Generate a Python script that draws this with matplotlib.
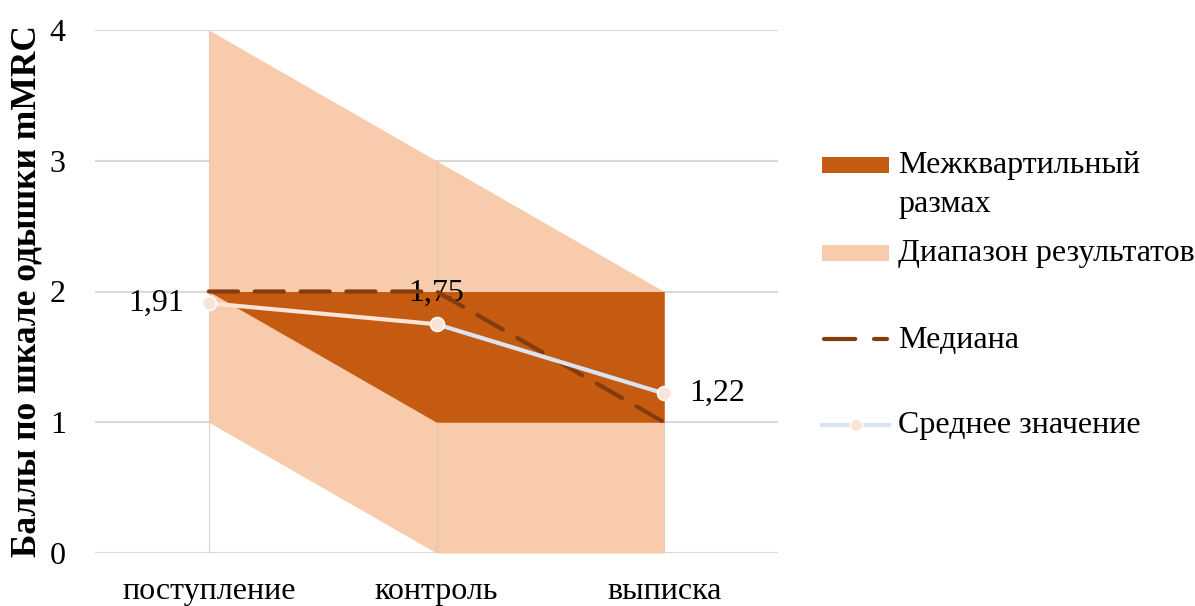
import matplotlib

matplotlib.use("Agg")

import matplotlib.pyplot as plt
from matplotlib.collections import LineCollection
from matplotlib.lines import Line2D
from matplotlib.patches import Rectangle

plt.rcParams["font.family"] = ["Liberation Serif", "DejaVu Serif"]

stages = ["поступление", "контроль", "выписка"]
range_min = [1, 0, 0]
range_max = [4, 3, 2]
iqr_low = [2, 1, 1]
iqr_high = [2, 2, 2]
median = [2, 2, 1]
mean = [1.91, 1.75, 1.22]
mean_labels = ["1,91", "1,75", "1,22"]

RANGE_COLOR = "#F8CBAD"
IQR_COLOR = "#C55A11"
MEDIAN_COLOR = "#843C0C"
MEAN_COLORS = ["#FBE5D6", "#DAE3F3"]
MARKER_COLOR = "#FBE3D6"
FONT_SIZE = 23

W, H = 1195, 606
fig = plt.figure(figsize=(W / 100, H / 100), dpi=100)
ax = fig.add_axes([95 / W, 1 - 553 / H, 683 / W, 523 / H])

x = list(range(len(stages)))

ax.fill_between(x, range_min, range_max, color=RANGE_COLOR, linewidth=0, zorder=2)
ax.fill_between(x, iqr_low, iqr_high, color=IQR_COLOR, linewidth=0, zorder=3)
# faint edges of the area series at each category
ax.vlines(x, 0, range_max, colors="#D9C3B5", linewidth=0.8, alpha=0.7, zorder=2.5)

ax.plot(x, median, color=MEDIAN_COLOR, linestyle=(0, (7, 4)), linewidth=3,
        dash_capstyle="round", zorder=4)

segments = [[(x[i], mean[i]), (x[i + 1], mean[i + 1])] for i in range(len(x) - 1)]
ax.add_collection(LineCollection(segments, colors=MEAN_COLORS, linewidths=3, zorder=5))
ax.scatter(x, mean, s=100, color=MARKER_COLOR, edgecolors="white", linewidths=1.2, zorder=6)

ax.annotate(mean_labels[0], (x[0], mean[0]), xytext=(-18, 0), textcoords="offset points",
            ha="right", va="center", fontsize=FONT_SIZE)
ax.annotate(mean_labels[1], (x[1], mean[1]), xytext=(0, 17), textcoords="offset points",
            ha="center", va="baseline", fontsize=FONT_SIZE)
ax.annotate(mean_labels[2], (x[2], mean[2]), xytext=(18, 0), textcoords="offset points",
            ha="left", va="center", fontsize=FONT_SIZE)

ax.set_xlim(-0.5, 2.5)
ax.set_ylim(0, 4)
ax.set_yticks([0, 1, 2, 3, 4])
ax.set_xticks(x)
ax.set_xticklabels(stages)
ax.tick_params(axis="y", length=0, pad=21, labelsize=FONT_SIZE)
ax.tick_params(axis="x", length=0, pad=17, labelsize=FONT_SIZE)
ax.grid(axis="y", color="#D9D9D9", linewidth=1.5, zorder=0)
ax.set_axisbelow(True)
for side in ["top", "right", "left", "bottom"]:
    ax.spines[side].set_visible(False)

ax.set_ylabel("Баллы по шкале одышки mMRC", fontsize=25.5, fontweight="bold")
ax.yaxis.set_label_coords(-0.075, 0.5)


# legend drawn in figure pixels so the keys line up with the first text line
def fx(px):
    return px / W


def fy(py):
    return 1 - py / H


key_left, key_right, text_left = 822, 889, 898

fig.add_artist(Rectangle((fx(key_left), fy(173)), fx(key_right - key_left), 16 / H,
                         facecolor=IQR_COLOR, edgecolor="none", transform=fig.transFigure))
fig.text(fx(text_left), fy(166), "Межквартильный", fontsize=FONT_SIZE, va="center")
fig.text(fx(text_left), fy(205), "размах", fontsize=FONT_SIZE, va="center")

fig.add_artist(Rectangle((fx(key_left), fy(261)), fx(key_right - key_left), 16 / H,
                         facecolor=RANGE_COLOR, edgecolor="none", transform=fig.transFigure))
fig.text(fx(text_left), fy(253), "Диапазон результатов", fontsize=FONT_SIZE, va="center")

fig.add_artist(Line2D([fx(key_left + 2), fx(key_right - 2)], [fy(339), fy(339)],
                      color=MEDIAN_COLOR, linewidth=3, linestyle=(0, (7.5, 4.5)),
                      dash_capstyle="round", transform=fig.transFigure))
fig.text(fx(text_left), fy(340), "Медиана", fontsize=FONT_SIZE, va="center")

fig.add_artist(Line2D([fx(key_left), fx(key_right)], [fy(425), fy(425)],
                      color=MEAN_COLORS[1], linewidth=3, transform=fig.transFigure))
fig.add_artist(Line2D([fx((key_left + key_right) / 2)], [fy(425)], marker="o",
                      markersize=9, markerfacecolor=MARKER_COLOR, markeredgecolor="white",
                      linestyle="none", transform=fig.transFigure))
fig.text(fx(text_left), fy(425), "Среднее значение", fontsize=FONT_SIZE, va="center")

fig.savefig("out.png", dpi=100)
